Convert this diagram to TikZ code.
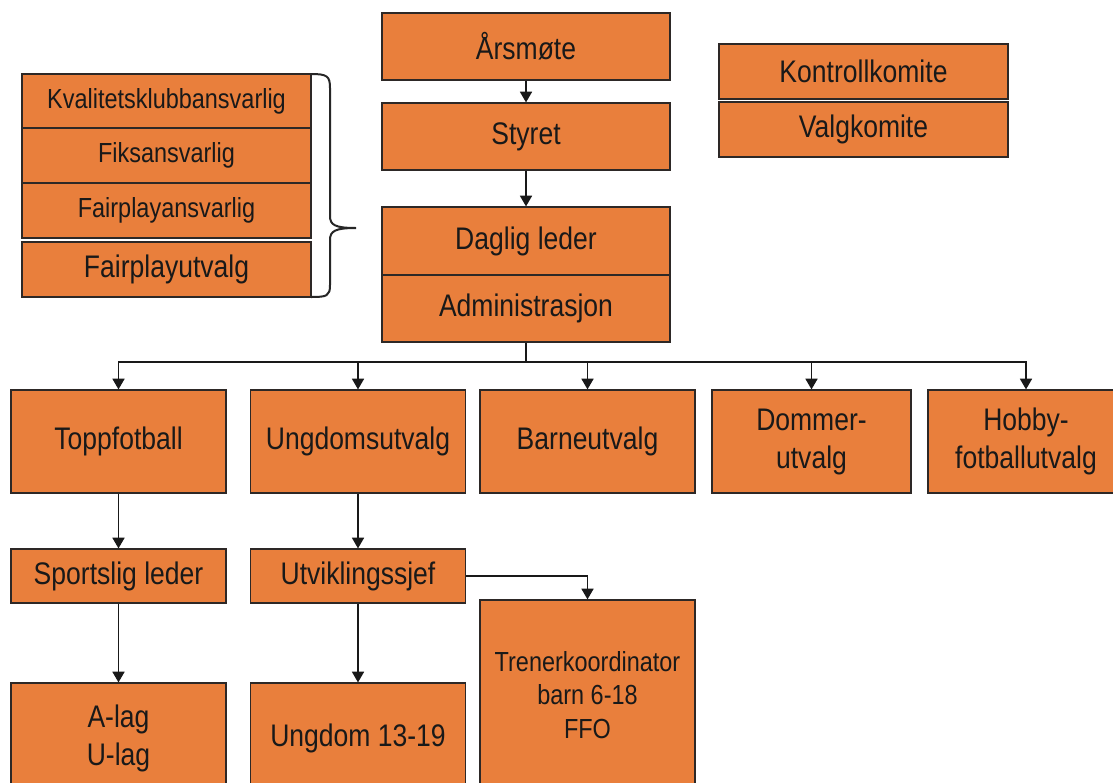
\documentclass[tikz,border=0pt]{standalone}
\usepackage{fontspec}
\setmainfont{Liberation Sans}[FakeStretch=0.85]
\usetikzlibrary{arrows.meta}
\definecolor{orng}{RGB}{233,127,60}
\definecolor{edge}{RGB}{45,40,38}
\begin{document}
\begin{tikzpicture}[x=0.75pt,y=-0.75pt,
  box/.style={draw=edge,fill=orng,line width=0.9pt,inner sep=0pt,align=center,
    text=black!90,font=\fontsize{23.4}{28.5}\selectfont},
  bx/.style 2 args={box,minimum width=#1*0.75pt,minimum height=#2*0.75pt},
  small/.style={font=\fontsize{20.7}{25}\selectfont},
  arr/.style={line width=1.1pt,draw=black!90,-{Triangle[width=9pt,length=8pt]}},
  ln/.style={line width=1.1pt,draw=black!90}]
\clip (0,0) rectangle (1113,782);
\fill[white] (0,0) rectangle (1113,782);
% top column
\node[bx={288}{67}] (ars) at (526,46.5) {Årsmøte};
\node[bx={288}{67}] (sty) at (526,136.5) {Styret};
\node[bx={288}{68}] (dag) at (526,241) {Daglig leder};
\node[bx={288}{67}] (adm) at (526,308.5) {Administrasjon};
% right committees
\node[bx={289}{55}] (kon) at (863.5,71.5) {Kontrollkomite};
\node[bx={289}{55}] (val) at (863.5,129.5) {Valgkomite};
% left group
\node[bx={289}{54},small] (kva) at (166.5,101) {Kvalitetsklubbansvarlig};
\node[bx={289}{55},small] (fik) at (166.5,155.5) {Fiksansvarlig};
\node[bx={289}{55},small] (fpa) at (166.5,210.5) {Fairplayansvarlig};
\node[bx={289}{55}] (fpu) at (166.5,269.5) {Fairplayutvalg};
% brace
\draw[line width=1.5pt,black!85]
  (311,74) .. controls (327,74) and (330,76) .. (330,88)
  -- (330,216) .. controls (330,225) and (335,228) .. (356,228)
  .. controls (335,228) and (330,231) .. (330,240)
  -- (330,285) .. controls (330,296) and (327,297) .. (311,297);
% second row
\node[bx={215}{103}] (top) at (118.5,441.5) {Toppfotball};
\node[bx={215}{103}] (ung) at (358,441.5) {Ungdomsutvalg};
\node[bx={215}{103}] (bar) at (587.5,441.5) {Barneutvalg};
\node[bx={199}{103}] (dom) at (811.5,441.5) {Dommer-\\utvalg};
\node[bx={196}{103}] (hob) at (1026,441.5) {Hobby-\\fotballutvalg};
% third row
\node[bx={215}{54}] (spo) at (118.5,576) {Sportslig leder};
\node[bx={215}{54}] (utv) at (358,576) {Utviklingssjef};
\node[bx={215}{190},small,font=\fontsize{20.7}{25.2}\selectfont] (tre) at (587.5,695) {Trenerkoordinator\\barn 6-18\\FFO};
% fourth row
\node[bx={215}{110}] (alag) at (118.5,738) {A-lag\\U-lag};
\node[bx={215}{110}] (u19) at (358,738) {Ungdom 13-19};
% connectors
\draw[arr] (ars) -- (sty);
\draw[arr] (sty) -- (dag);
\coordinate (bus) at (526,362);
\draw[ln] (adm.south) -- (bus);
\draw[arr] (bus) -| (top.north);
\draw[arr] (bus) -| (ung.north);
\draw[arr] (bus) -| (bar.north);
\draw[arr] (bus) -| (dom.north);
\draw[arr] (bus) -| (hob.north);
\draw[arr] (top) -- (spo);
\draw[arr] (spo) -- (alag);
\draw[arr] (ung) -- (utv);
\draw[arr] (utv) -- (u19);
\draw[arr] (utv.east) -| (tre.north);
\end{tikzpicture}
\end{document}
